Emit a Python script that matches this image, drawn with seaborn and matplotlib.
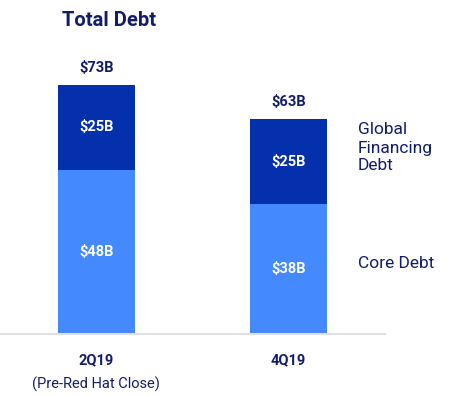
import seaborn as sns
import matplotlib.pyplot as plt
import pandas as pd

# 数据
quarters = ["2Q19", "4Q19"]
sub_labels = ["(Pre-Red Hat Close)", ""]
core_debt = [48, 38]
gf_debt = [25, 25]
total_debt = [73, 63]

DARK = "#0530AD"
LIGHT = "#4589FF"
NAVY = "#121C6B"

sns.set_theme(style="white")
plt.rcParams["font.family"] = ["Roboto", "DejaVu Sans"]

df = pd.DataFrame({"Quarter": quarters, "Core": core_debt,
                   "GF": gf_debt, "Total": total_debt})

fig = plt.figure(figsize=(4.67, 3.95), dpi=100)
ax = fig.add_axes([0.0, 0.154, 0.824, 0.744])

# 先画总额（深色），再叠加核心债务（浅色）
sns.barplot(data=df, x="Quarter", y="Total", color=DARK, width=0.4,
            saturation=1, linewidth=0, ax=ax)
sns.barplot(data=df, x="Quarter", y="Core", color=LIGHT, width=0.4,
            saturation=1, linewidth=0, ax=ax)

ax.set_xlim(-0.5, 1.5)
ax.set_ylim(0, 86)
ax.set_xlabel("")
ax.set_ylabel("")
ax.set_yticks([])
for s in ["top", "right", "left"]:
    ax.spines[s].set_visible(False)
ax.spines["bottom"].set_color("#E0E0E0")
ax.spines["bottom"].set_linewidth(1.5)
ax.tick_params(axis="x", length=0, pad=14)
ax.set_xticks(range(len(quarters)))
ax.set_xticklabels(quarters, fontweight="bold", fontsize=10.5, color=NAVY)

for i, (c, g, t) in enumerate(zip(core_debt, gf_debt, total_debt)):
    ax.text(i, c / 2, f"${c}B", ha="center", va="center", color="white",
            fontsize=10.5, fontweight="bold")
    ax.text(i, c + g / 2, f"${g}B", ha="center", va="center", color="white",
            fontsize=10.5, fontweight="bold")
    ax.annotate(f"${t}B", (i, t), xytext=(0, 7), textcoords="offset points",
                ha="center", va="bottom", color=NAVY, fontsize=10.5,
                fontweight="bold")
    if sub_labels[i]:
        ax.annotate(sub_labels[i], (i, 0), xytext=(0, -36),
                    textcoords="offset points", ha="center", va="center",
                    color=NAVY, fontsize=10.5,
                    xycoords=ax.get_xaxis_transform())

fig.text(62 / 467, 1 - 20 / 395, "Total Debt", ha="left", va="center",
         fontsize=14.5, fontweight="bold", color=NAVY)
fig.text(358 / 467, 1 - 148 / 395, "Global\nFinancing\nDebt", ha="left",
         va="center", fontsize=12.5, color=NAVY, linespacing=1.25)
fig.text(358 / 467, 1 - 263 / 395, "Core Debt", ha="left", va="center",
         fontsize=12.5, color=NAVY)

fig.savefig("out.png", dpi=100)
